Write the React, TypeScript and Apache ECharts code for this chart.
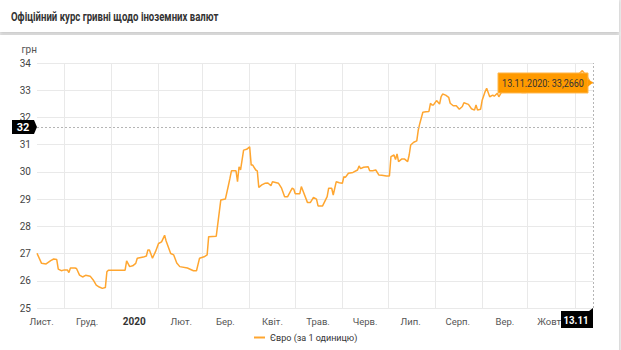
import React, { useEffect, useRef } from "react";
import * as echarts from "echarts";

const START = "2019-11-13";
const END = "2020-11-13";
const TITLE = "Офіційний курс гривні щодо іноземних валют";
const SERIES_NAME = "Євро (за 1 одиницю)";
const Y_UNIT = "грн";
const TOOLTIP_TEXT = "13.11.2020: 33,2660";
const POINTER_X_LABEL = "13.11";
const POINTER_Y_VALUE = 31.65;
const LAST_VALUE = 33.266;

const MONTH_LABELS: Record<number, string> = {
  10: "Лист.", 11: "Груд.", 0: "2020", 1: "Лют.", 2: "Бер.", 3: "Квіт.",
  4: "Трав.", 5: "Черв.", 6: "Лип.", 7: "Серп.", 8: "Вер.", 9: "Жовт.",
};

const dates = [
  "2019-11-13","2019-11-16","2019-11-19","2019-11-22","2019-11-24","2019-11-26","2019-11-27","2019-11-29",
  "2019-12-01","2019-12-03","2019-12-04","2019-12-05","2019-12-08","2019-12-09","2019-12-11","2019-12-13",
  "2019-12-15","2019-12-18","2019-12-20","2019-12-22","2019-12-24","2019-12-26","2019-12-28","2019-12-29",
  "2019-12-30","2020-01-10","2020-01-11","2020-01-13","2020-01-15","2020-01-17","2020-01-18","2020-01-22",
  "2020-01-24","2020-01-25","2020-01-26","2020-01-28","2020-01-30","2020-02-01","2020-02-03","2020-02-05",
  "2020-02-06","2020-02-09","2020-02-11","2020-02-13","2020-02-15","2020-02-20","2020-02-24","2020-02-26",
  "2020-02-28","2020-03-02","2020-03-04","2020-03-05","2020-03-10","2020-03-13","2020-03-16","2020-03-18",
  "2020-03-19","2020-03-20","2020-03-23","2020-03-24","2020-03-25","2020-03-26","2020-03-28","2020-03-30",
  "2020-04-01","2020-04-02","2020-04-03","2020-04-05","2020-04-06","2020-04-07","2020-04-09","2020-04-11",
  "2020-04-13","2020-04-15","2020-04-16","2020-04-20","2020-04-22","2020-04-24","2020-04-26","2020-04-29",
  "2020-04-30","2020-05-01","2020-05-04","2020-05-05","2020-05-09","2020-05-11","2020-05-13","2020-05-15",
  "2020-05-16","2020-05-19","2020-05-22","2020-05-23","2020-05-25","2020-05-26","2020-05-27","2020-05-28",
  "2020-05-30","2020-06-01","2020-06-02","2020-06-03","2020-06-05","2020-06-08","2020-06-11","2020-06-12",
  "2020-06-13","2020-06-15","2020-06-18","2020-06-19","2020-06-21","2020-06-23","2020-06-25","2020-06-27",
  "2020-06-30","2020-07-02","2020-07-03","2020-07-05","2020-07-06","2020-07-07","2020-07-08","2020-07-10",
  "2020-07-12","2020-07-14","2020-07-15","2020-07-16","2020-07-18","2020-07-20","2020-07-21","2020-07-22",
  "2020-07-24","2020-07-26","2020-07-28","2020-07-29","2020-07-30","2020-07-31","2020-08-02","2020-08-04",
  "2020-08-05","2020-08-06","2020-08-08","2020-08-10","2020-08-11","2020-08-13","2020-08-15","2020-08-17",
  "2020-08-19","2020-08-20","2020-08-23","2020-08-25","2020-08-27","2020-08-28","2020-08-29","2020-08-31",
  "2020-09-01","2020-09-03","2020-09-04","2020-09-06","2020-09-08","2020-09-09","2020-09-11","2020-09-12",
  "2020-09-14","2020-09-18","2020-09-23","2020-09-27","2020-09-30","2020-10-03","2020-10-08","2020-10-15",
  "2020-10-21","2020-10-28","2020-11-01","2020-11-06","2020-11-09","2020-11-11","2020-11-13",
];

const values = [
  27.01,26.64,26.62,26.74,26.80,26.78,26.43,26.37,
  26.40,26.40,26.30,26.47,26.47,26.45,26.21,26.14,
  26.20,26.17,26.03,25.84,25.77,25.72,25.75,26.33,
  26.39,26.39,26.73,26.52,26.55,26.64,26.83,26.87,
  26.91,27.13,27.13,26.83,27.07,27.37,27.43,27.67,
  27.46,27.00,26.95,26.65,26.52,26.47,26.37,26.37,
  26.83,26.88,26.95,27.62,27.64,28.97,29.00,29.50,
  29.76,30.04,30.04,29.64,30.19,30.07,30.80,30.83,
  30.92,30.25,30.25,30.07,30.04,29.43,29.52,29.58,
  29.59,29.49,29.64,29.58,29.40,29.09,29.09,29.40,
  29.37,29.20,29.20,29.46,28.88,28.88,29.06,29.00,
  28.75,28.75,29.09,29.40,29.40,29.15,29.40,29.64,
  29.60,29.58,29.82,29.80,29.95,29.98,30.07,30.22,
  30.12,30.17,30.19,30.04,30.04,30.07,29.89,29.88,
  29.85,29.85,30.56,30.62,30.45,30.66,30.38,30.47,
  30.47,30.38,30.62,30.99,31.09,31.14,31.54,31.78,
  32.19,32.21,32.22,32.52,32.46,32.46,32.62,32.49,
  32.76,32.86,32.82,32.74,32.52,32.43,32.43,32.30,
  32.40,32.54,32.48,32.32,32.27,32.46,32.27,32.30,
  32.62,32.95,33.07,32.76,32.82,32.78,32.89,32.76,
  32.95,33.15,33.05,32.92,32.92,33.15,33.30,33.25,
  33.40,33.35,33.45,33.72,33.50,33.32,33.266,
];

function buildDays(start: string, end: string): string[] {
  const out: string[] = [];
  const s = new Date(start + "T00:00:00Z").getTime();
  const e = new Date(end + "T00:00:00Z").getTime();
  for (let t = s; t <= e; t += 86400000) {
    out.push(new Date(t).toISOString().slice(0, 10));
  }
  return out;
}

const FONT = "Roboto, sans-serif";

function baseGraphic() {
  return [
    { type: "rect", z: -10, shape: { x: 0, y: 0, width: 619, height: 32 },
      style: { fill: "#fff", shadowBlur: 3, shadowColor: "rgba(0,0,0,0.18)", shadowOffsetY: 1 } },
    { type: "rect", z: -10, shape: { x: 0, y: 35, width: 619, height: 320 },
      style: { fill: "#fff", shadowBlur: 3, shadowColor: "rgba(0,0,0,0.18)" } },
    { type: "text", z: 10, x: 11, y: 17, scaleX: 0.8,
      style: { text: TITLE, align: "left", verticalAlign: "middle", fill: "#333",
        fontSize: 12, fontWeight: "bold", fontFamily: FONT } },
  ];
}

export default function App() {
  const ref = useRef<HTMLDivElement>(null);
  useEffect(() => {
    if (!ref.current) return;
    const chart = echarts.init(ref.current, undefined, { renderer: "svg" });
    const days = buildDays(START, END);
    chart.setOption({
      animation: false,
      textStyle: { fontFamily: FONT },
      graphic: baseGraphic(),
      legend: {
        bottom: 3, left: 249, icon: "rect", itemWidth: 11, itemHeight: 2, itemGap: 3,
        textStyle: { fontSize: 9, color: "#333", fontFamily: FONT },
        data: [SERIES_NAME],
      },
      grid: { left: 37, right: 28, top: 63, bottom: 42 },
      xAxis: {
        type: "category",
        data: days,
        boundaryGap: false,
        axisLine: { show: false },
        axisTick: { show: false },
        axisLabel: {
          interval: (_i: number, v: string) => v.endsWith("-16"),
          formatter: (v: string) => {
            const m = parseInt(v.slice(5, 7), 10) - 1;
            return m === 0 ? "{b|" + MONTH_LABELS[m] + "}" : MONTH_LABELS[m];
          },
          rich: { b: { fontWeight: "bold", fontSize: 10, color: "#333", fontFamily: FONT } },
          fontSize: 9.5, color: "#555", margin: 8, fontFamily: FONT,
        },
        splitLine: {
          show: true,
          interval: (_i: number, v: string) => v.endsWith("-01"),
          lineStyle: { color: "#e9e9e9", width: 1 },
        },
      },
      yAxis: {
        type: "value", min: 25, max: 34, interval: 1,
        name: Y_UNIT, nameLocation: "end", nameGap: 9,
        nameTextStyle: { align: "right", fontSize: 10, color: "#555", fontFamily: FONT },
        axisLine: { show: false }, axisTick: { show: false },
        axisLabel: { fontSize: 10, color: "#444", margin: 6, fontFamily: FONT },
        splitLine: { lineStyle: { color: "#e9e9e9", width: 1 } },
      },
      series: [
        {
          name: SERIES_NAME,
          type: "line",
          data: dates.map((d, i) => [d, values[i]]),
          showSymbol: false,
          lineStyle: { color: "#ffa630", width: 1.5 },
          itemStyle: { color: "#ffa630" },
          markLine: {
            silent: true,
            symbol: ["none", "none"],
            lineStyle: { color: "#b5b5b5", type: [2, 2], width: 1 },
            label: { show: false },
            data: [{ xAxis: END }, { yAxis: POINTER_Y_VALUE }],
          },
        },
      ],
    });

    const last = days.length - 1;
    const pEnd = chart.convertToPixel({ gridIndex: 0 }, [last, LAST_VALUE]) as number[];
    const pBottom = chart.convertToPixel({ gridIndex: 0 }, [last, 25]) as number[];
    const pY = chart.convertToPixel({ gridIndex: 0 }, [0, POINTER_Y_VALUE]) as number[];

    const Z = 100;
    const tipW = 90, tipH = 20;
    const overlay = [
      { type: "rect", z: Z, shape: { x: pEnd[0] - 5 - tipW, y: pEnd[1] - tipH / 2, width: tipW, height: tipH },
        style: { fill: "#ff9a00", stroke: "#ffb84d", lineWidth: 1 } },
      { type: "polygon", z: Z, shape: { points: [[pEnd[0] - 5.5, pEnd[1] - 4], [pEnd[0] - 0.5, pEnd[1]], [pEnd[0] - 5.5, pEnd[1] + 4]] },
        style: { fill: "#ff9a00" } },
      { type: "text", z: Z + 1, x: pEnd[0] - 5 - tipW / 2, y: pEnd[1] + 0.5, scaleX: 0.82,
        style: { text: TOOLTIP_TEXT, align: "center", verticalAlign: "middle", fill: "#333", fontSize: 11, fontFamily: FONT } },
      { type: "polygon", z: Z, shape: { points: [
          [pBottom[0] - 32, pBottom[1] + 3], [pBottom[0] - 4, pBottom[1] + 3], [pBottom[0], pBottom[1]],
          [pBottom[0], pBottom[1] + 20], [pBottom[0] - 32, pBottom[1] + 20]] },
        style: { fill: "#000" } },
      { type: "text", z: Z + 1, x: pBottom[0] - 17, y: pBottom[1] + 12, scaleX: 0.88,
        style: { text: POINTER_X_LABEL, align: "center", verticalAlign: "middle", fill: "#fff", fontSize: 11, fontWeight: "bold", fontFamily: FONT } },
      { type: "polygon", z: Z, shape: { points: [
          [pY[0] - 25, pY[1] - 7], [pY[0] - 3, pY[1] - 7], [pY[0], pY[1]],
          [pY[0] - 3, pY[1] + 7], [pY[0] - 25, pY[1] + 7]] },
        style: { fill: "#000" } },
      { type: "text", z: Z + 1, x: pY[0] - 14, y: pY[1] + 0.5,
        style: { text: String(Math.round(POINTER_Y_VALUE)), align: "center", verticalAlign: "middle", fill: "#fff", fontSize: 11, fontWeight: "bold", fontFamily: FONT } },
    ];
    chart.setOption({ graphic: [...baseGraphic(), ...overlay] });
    return () => chart.dispose();
  }, []);
  return (
    <div style={{ position: "fixed", left: 0, top: 0, width: 621, height: 350, background: "#ececec" }}>
      <div ref={ref} style={{ width: 621, height: 350 }} />
    </div>
  );
}
